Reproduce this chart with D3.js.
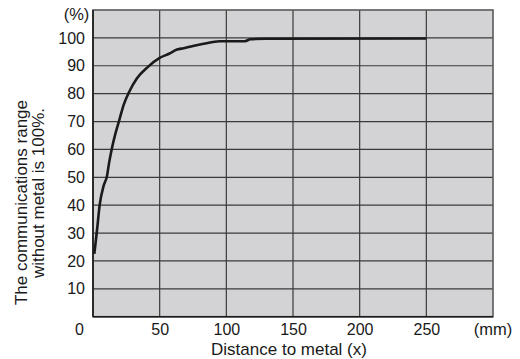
<!DOCTYPE html>
<html>
<head>
<meta charset="utf-8">
<script src="https://cdn.jsdelivr.net/npm/d3@7"></script>
<style>
  html, body { margin: 0; padding: 0; background: #fff; }
  svg { display: block; }
  text { font-family: "Liberation Sans", Arial, Helvetica, sans-serif; fill: #1a1a1a; }
</style>
</head>
<body>
<svg id="chart" width="520" height="359"></svg>
<script>
// ---- data ----
const distance = [1, 3, 5, 8, 10.5, 12, 14, 17, 20, 23, 27, 33, 41, 50, 57, 63, 68, 75, 83, 95, 100, 114, 118, 130, 250];
const rangePct = [22.5, 31, 40, 47, 50.5, 55, 60, 66, 71, 76, 80.5, 85.5, 89.5, 92.8, 94.3, 95.8, 96.3, 97.1, 97.9, 98.8, 98.8, 98.8, 99.5, 99.7, 99.8];
const xTicks = [50, 100, 150, 200, 250];
const yTicks = [10, 20, 30, 40, 50, 60, 70, 80, 90, 100];
const xGrid = [50, 100, 150, 200, 250];
const yGrid = [10, 20, 30, 40, 50, 60, 70, 80, 90, 100];
const yTitleLines = ["The communications range", "without metal is 100%."];
const xTitle = "Distance to metal (x)";
const xUnit = "(mm)";
const yUnit = "(%)";

// ---- layout ----
const svg = d3.select("#chart");
const pL = 93, pR = 493, pT = 10, pB = 316.7;
const x = d3.scaleLinear().domain([0, 300]).range([pL, pR]);
const y = d3.scaleLinear().domain([0, 110]).range([pB, pT]);

// plot background
svg.append("rect")
  .attr("x", pL).attr("y", pT)
  .attr("width", pR - pL).attr("height", pB - pT)
  .attr("fill", "#d3d3d5");

// grid
svg.append("g").selectAll("line").data(xGrid).join("line")
  .attr("x1", d => x(d)).attr("x2", d => x(d))
  .attr("y1", pT).attr("y2", pB)
  .attr("stroke", "#3a3a3a").attr("stroke-width", 1.2);
svg.append("g").selectAll("line").data(yGrid).join("line")
  .attr("x1", pL).attr("x2", pR)
  .attr("y1", d => y(d)).attr("y2", d => y(d))
  .attr("stroke", "#3a3a3a").attr("stroke-width", 1.2);

// border
svg.append("rect")
  .attr("x", pL).attr("y", pT)
  .attr("width", pR - pL).attr("height", pB - pT)
  .attr("fill", "none").attr("stroke", "#5a5a5a").attr("stroke-width", 1.6);
svg.append("line").attr("x1", pL).attr("x2", pL).attr("y1", pT).attr("y2", pB)
  .attr("stroke", "#1a1a1a").attr("stroke-width", 1.6);
svg.append("line").attr("x1", pL).attr("x2", pR).attr("y1", pB).attr("y2", pB)
  .attr("stroke", "#1a1a1a").attr("stroke-width", 1.6);

// curve
const line = d3.line().x((d, i) => x(distance[i])).y((d, i) => y(rangePct[i])).curve(d3.curveMonotoneX);
svg.append("path")
  .datum(distance)
  .attr("d", line)
  .attr("fill", "none")
  .attr("stroke", "#1a1a1a")
  .attr("stroke-width", 2.6)
  .attr("stroke-linejoin", "round");

// y axis labels
const yAxis = d3.axisLeft(y).tickValues(yTicks).tickSize(0).tickPadding(8);
const gy = svg.append("g").attr("transform", `translate(${pL},0)`).call(yAxis);
gy.select(".domain").remove();
gy.selectAll("text").style("font-size", "16px").style("font-family", null).attr("fill", "#1a1a1a");

// x axis labels
const xAxis = d3.axisBottom(x).tickValues(xTicks).tickSize(0).tickPadding(6);
const gx = svg.append("g").attr("transform", `translate(0,${pB})`).call(xAxis);
gx.select(".domain").remove();
gx.selectAll("text").style("font-size", "16px").style("font-family", null).attr("fill", "#1a1a1a")
  .attr("dy", null).attr("y", 18);

// origin label and units
svg.append("text").attr("x", 79.5).attr("y", 334.7).attr("text-anchor", "middle")
  .style("font-size", "16px").text("0");
svg.append("text").attr("x", 493).attr("y", 334.7).attr("text-anchor", "middle")
  .style("font-size", "16.5px").text(xUnit);
svg.append("text").attr("x", 76.5).attr("y", 20).attr("text-anchor", "middle")
  .style("font-size", "16.5px").text(yUnit);

// x title
svg.append("text").attr("x", 289).attr("y", 354.5).attr("text-anchor", "middle")
  .style("font-size", "17px").text(xTitle);

// y title (rotated; text-anchor end = top end of each line)
const yTitleTops = [100, 108];
const yTitleX = [27, 44];
svg.append("g").selectAll("text").data(yTitleLines).join("text")
  .attr("transform", (d, i) => `translate(${yTitleX[i]},${yTitleTops[i]}) rotate(-90)`)
  .attr("text-anchor", "end")
  .style("font-size", "17px")
  .text(d => d);
</script>
</body>
</html>
